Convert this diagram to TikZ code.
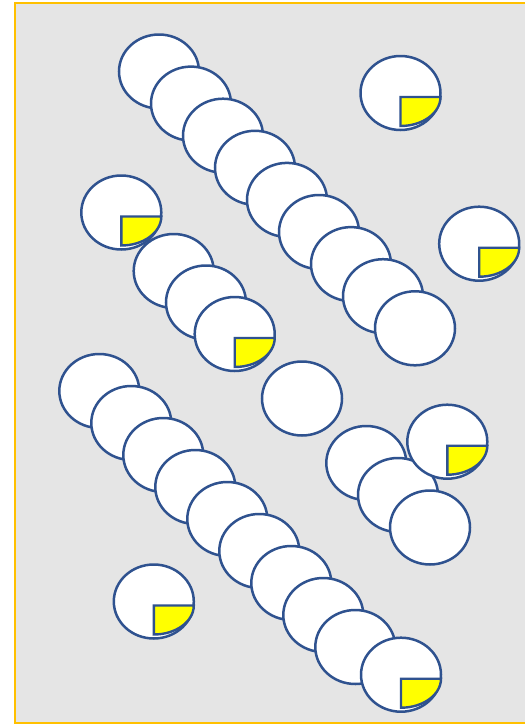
\documentclass[tikz,border=0pt]{standalone}
\usetikzlibrary{shapes.geometric}
\definecolor{outl}{HTML}{2F528F}
\definecolor{bg}{HTML}{E5E5E5}
\definecolor{frame}{HTML}{FFC000}
\definecolor{wedge}{HTML}{FFFF00}
\tikzset{
  disc/.style={ellipse, draw=outl, fill=white, line width=2.5pt, inner sep=0pt,
    minimum width=80pt, minimum height=74pt},
  slice/.style={draw=outl, fill=wedge, line width=2.4pt, line join=miter}
}
\newcommand{\pieat}[3]{% name, x, y
  \node[disc] (#1) at (#2,#3) {};
  \coordinate (#1c) at (#2,#3+4);
  \draw[slice] (#1c) -- ++(40pt,0pt) arc[start angle=0, end angle=-90, x radius=40pt, y radius=29pt] -- cycle;
}
\begin{document}
\begin{tikzpicture}[x=1pt,y=-1pt]
\useasboundingbox (0,0) rectangle (525,724);
\draw[fill=bg, draw=frame, line width=1.5pt] (15.2,3.2) rectangle (530,723);
% top-right single pies
\pieat{p1}{400.5}{93}
\pieat{p2}{479.2}{243.7}
% chain 1
\foreach \i in {0,...,8} {
  \node[disc] (a\i) at ({159+32*\i},{71.5+32.1*\i}) {};
}
% left pie and chain 2
\pieat{p3}{121.3}{212.5}
\node[disc] (b0) at (173.7,271) {};
\node[disc] (b1) at (206,302.5) {};
\pieat{p4}{234.7}{334}
% single
\node[disc] (s1) at (302,398.5) {};
% chain 3
\foreach \i in {0,...,8} {
  \node[disc] (c\i) at ({99.3+32*\i},{391+32*\i}) {};
}
\pieat{p5}{401}{674.7}
% chain 4
\node[disc] (d0) at (366.3,463) {};
\node[disc] (d1) at (398,495) {};
\node[disc] (d2) at (430,527.5) {};
\pieat{p6}{447.3}{441.7}
% bottom-left pie
\pieat{p7}{153.8}{601.5}
\end{tikzpicture}
\end{document}
